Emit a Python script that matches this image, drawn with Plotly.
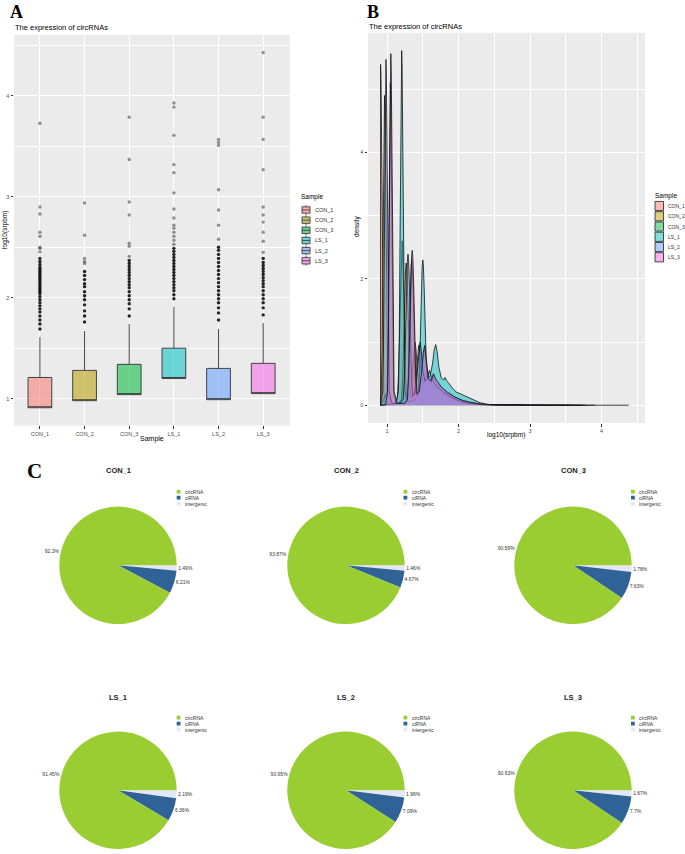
import plotly.graph_objects as go

W, H = 685, 854

# ---------------- data ----------------
samples = ["CON_1", "CON_2", "CON_3", "LS_1", "LS_2", "LS_3"]
sample_colors = ["#F8766D", "#B79F00", "#00BA38", "#00BFC4", "#619CFF", "#F564E3"]

# Panel A: box statistics (log10 srpbm)
box_q1 = [0.91, 0.98, 1.04, 1.20, 0.99, 1.05]
box_median = [0.91, 0.98, 1.04, 1.20, 0.99, 1.05]
box_q3 = [1.21, 1.28, 1.34, 1.50, 1.30, 1.35]
box_lower = [0.91, 0.98, 1.04, 1.20, 0.99, 1.05]
box_upper = [1.61, 1.67, 1.74, 1.91, 1.69, 1.75]

outliers_dense = [
    [1.69, 1.74, 1.78, 1.82, 1.86, 1.89, 1.92, 1.95, 1.98, 2.01, 2.04, 2.06, 2.08, 2.10,
     2.12, 2.14, 2.16, 2.18, 2.20, 2.22, 2.24, 2.26, 2.28, 2.30, 2.33, 2.36, 2.39],
    [1.76, 1.82, 1.87, 1.93, 1.98, 2.02, 2.06, 2.11, 2.14, 2.18, 2.22, 2.26],
    [1.82, 1.89, 1.94, 1.98, 2.02, 2.06, 2.10, 2.13, 2.16, 2.19, 2.22, 2.25, 2.28, 2.31,
     2.34, 2.37],
    [1.99, 2.03, 2.07, 2.10, 2.13, 2.16, 2.19, 2.22, 2.25, 2.28, 2.31, 2.34, 2.37, 2.40,
     2.43, 2.46, 2.49],
    [1.78, 1.85, 1.90, 1.95, 1.99, 2.03, 2.07, 2.11, 2.15, 2.19, 2.23, 2.27, 2.31, 2.35,
     2.39, 2.43, 2.47, 2.50],
    [1.83, 1.90, 1.95, 1.99, 2.03, 2.07, 2.11, 2.14, 2.17, 2.20, 2.23, 2.26, 2.29, 2.32,
     2.35, 2.39],
]
outliers_sparse = [
    [2.455, 2.49, 2.50, 2.61, 2.65, 2.83, 2.90, 3.73],
    [2.34, 2.36, 2.39, 2.62, 2.94],
    [2.41, 2.51, 2.54, 2.82, 2.95, 3.37, 3.79],
    [2.53, 2.57, 2.61, 2.65, 2.69, 2.72, 2.79, 2.88, 3.04, 3.24, 3.32, 3.61, 3.89, 3.93],
    [2.58, 2.72, 2.87, 3.07, 3.51, 3.54, 3.57],
    [2.45, 2.56, 2.65, 2.75, 2.82, 2.90, 3.27, 3.57, 3.79, 4.43],
]

# Panel B: density curves
dens_x_CON_1 = [0.91, 0.91, 0.916, 0.924, 0.934, 0.944, 0.956, 0.975, 1.0, 1.1, 1.144, 1.16,
                1.175, 1.189, 1.201, 1.21, 1.219, 1.231, 1.245, 1.26, 1.276, 1.3, 1.33, 1.355,
                1.375, 1.39, 1.405, 1.425, 1.45, 1.48, 1.51, 1.54, 1.57, 1.61, 1.66, 1.75, 1.85,
                1.95, 2.05, 2.2, 2.35, 2.6, 3.0, 3.72]
dens_y_CON_1 = [0, 5.39, 5.12, 4.2, 2.43, 0.97, 0.22, 0.04, 0.02, 0.02, 0.1, 0.47, 1.17, 2.03,
                2.47, 2.6, 2.47, 2.03, 1.17, 0.47, 0.15, 0.12, 0.2, 0.55, 0.88, 1.0, 0.88, 0.55,
                0.35, 0.38, 0.5, 0.42, 0.33, 0.36, 0.28, 0.22, 0.15, 0.09, 0.05, 0.025, 0.012,
                0.006, 0.003, 0.001]
dens_x_CON_2 = [0.91, 0.919, 0.931, 0.941, 0.951, 0.959, 0.965, 0.971, 0.979, 0.989, 0.999, 1.011,
                1.05, 1.15, 1.202, 1.218, 1.233, 1.247, 1.259, 1.268, 1.277, 1.289, 1.303, 1.318,
                1.334, 1.37, 1.395, 1.415, 1.43, 1.443, 1.456, 1.475, 1.5, 1.53, 1.565, 1.6, 1.67,
                1.75, 1.85, 1.95, 2.05, 2.2, 2.4, 2.93]
dens_y_CON_2 = [0, 0.2, 0.88, 2.2, 3.82, 4.66, 4.9, 4.66, 3.82, 2.2, 0.88, 0.2, 0.03, 0.02, 0.09,
                0.41, 1.01, 1.76, 2.14, 2.25, 2.14, 1.76, 1.01, 0.41, 0.12, 0.15, 0.3, 0.6, 0.85,
                0.95, 0.85, 0.55, 0.33, 0.36, 0.5, 0.38, 0.3, 0.22, 0.14, 0.08, 0.05, 0.02, 0.01,
                0.002]
dens_x_CON_3 = [0.91, 1.0, 1.012, 1.022, 1.032, 1.04, 1.046, 1.052, 1.06, 1.07, 1.08, 1.092, 1.13,
                1.25, 1.279, 1.295, 1.31, 1.324, 1.336, 1.345, 1.354, 1.366, 1.38, 1.395, 1.411,
                1.45, 1.48, 1.5, 1.525, 1.55, 1.575, 1.61, 1.65, 1.69, 1.76, 1.85, 1.95, 2.05,
                2.15, 2.3, 2.5, 3.0, 3.78]
dens_y_CON_3 = [0, 0.2, 0.92, 2.3, 3.98, 4.85, 5.1, 4.85, 3.98, 2.3, 0.92, 0.2, 0.03, 0.03, 0.09,
                0.41, 1.04, 1.79, 2.19, 2.3, 2.19, 1.79, 1.04, 0.41, 0.15, 0.2, 0.45, 0.72, 0.9,
                0.7, 0.42, 0.35, 0.48, 0.36, 0.28, 0.2, 0.13, 0.08, 0.05, 0.02, 0.008, 0.003,
                0.001]
dens_x_LS_1 = [0.91, 1.12, 1.159, 1.171, 1.181, 1.191, 1.199, 1.205, 1.211, 1.219, 1.229, 1.239,
               1.251, 1.29, 1.38, 1.434, 1.45, 1.465, 1.479, 1.491, 1.5, 1.509, 1.521, 1.535, 1.55,
               1.566, 1.6, 1.635, 1.66, 1.68, 1.7, 1.725, 1.76, 1.79, 1.81, 1.84, 1.88, 1.93,
               1.97, 2.05, 2.11, 2.2, 2.3, 2.4, 2.55, 3.0, 3.5, 3.91]
dens_y_LS_1 = [0, 0.02, 0.22, 1.01, 2.52, 4.38, 5.33, 5.61, 5.33, 4.38, 2.52, 1.01, 0.22, 0.05,
               0.08, 0.15, 0.45, 1.04, 1.79, 2.19, 2.3, 2.19, 1.79, 1.1, 0.6, 0.45, 0.45, 0.65,
               0.88, 0.96, 0.85, 0.6, 0.43, 0.4, 0.44, 0.38, 0.32, 0.25, 0.21, 0.17, 0.14, 0.09,
               0.04, 0.015, 0.006, 0.003, 0.002, 0.001]
dens_x_LS_2 = [0.91, 0.939, 0.951, 0.961, 0.971, 0.979, 0.985, 0.991, 0.999, 1.009, 1.019, 1.031,
               1.07, 1.18, 1.227, 1.243, 1.258, 1.272, 1.284, 1.293, 1.302, 1.314, 1.328, 1.343,
               1.359, 1.39, 1.42, 1.445, 1.462, 1.48, 1.5, 1.53, 1.56, 1.592, 1.62, 1.66, 1.7,
               1.78, 1.88, 1.97, 2.06, 2.18, 2.3, 2.5, 3.0, 3.57]
dens_y_LS_2 = [0, 0.22, 0.98, 2.46, 4.27, 5.2, 5.47, 5.2, 4.27, 2.46, 0.98, 0.22, 0.03, 0.03, 0.1,
               0.43, 1.08, 1.86, 2.27, 2.39, 2.27, 1.86, 1.08, 0.43, 0.14, 0.18, 0.5, 0.85, 1.0,
               0.85, 0.55, 0.38, 0.42, 0.55, 0.44, 0.35, 0.3, 0.22, 0.14, 0.09, 0.05, 0.025,
               0.012, 0.005, 0.002, 0.001]
dens_x_LS_3 = [0.91, 0.98, 1.007, 1.019, 1.029, 1.039, 1.047, 1.053, 1.059, 1.067, 1.077, 1.087,
               1.099, 1.14, 1.25, 1.286, 1.302, 1.317, 1.331, 1.343, 1.352, 1.361, 1.373, 1.387,
               1.402, 1.418, 1.45, 1.48, 1.505, 1.527, 1.55, 1.58, 1.615, 1.648, 1.68, 1.72, 1.76,
               1.85, 1.95, 2.05, 2.15, 2.3, 2.5, 3.0, 3.5, 4.0, 4.38]
dens_y_LS_3 = [0, 0.01, 0.22, 1.0, 2.5, 4.34, 5.28, 5.56, 5.28, 4.34, 2.5, 1.0, 0.22, 0.03, 0.03,
               0.1, 0.44, 1.1, 1.91, 2.33, 2.45, 2.33, 1.91, 1.1, 0.44, 0.18, 0.22, 0.5, 0.82,
               0.95, 0.75, 0.42, 0.38, 0.5, 0.42, 0.35, 0.29, 0.2, 0.13, 0.08, 0.05, 0.02, 0.008,
               0.003, 0.002, 0.001, 0.001]
dens_x = [dens_x_CON_1, dens_x_CON_2, dens_x_CON_3, dens_x_LS_1, dens_x_LS_2, dens_x_LS_3]
dens_y = [dens_y_CON_1, dens_y_CON_2, dens_y_CON_3, dens_y_LS_1, dens_y_LS_2, dens_y_LS_3]

# Panel C: pie compositions (%)
pie_labels = ["circRNA", "ciRNA", "intergenic"]
pie_colors = ["#9ACD32", "#2F6398", "#E6E6FA"]
pie_CON_1 = [92.3, 6.21, 1.49]
pie_CON_2 = [93.87, 4.67, 1.46]
pie_CON_3 = [90.59, 7.63, 1.78]
pie_LS_1 = [91.45, 6.36, 2.19]
pie_LS_2 = [90.95, 7.09, 1.96]
pie_LS_3 = [90.63, 7.7, 1.67]
pie_values = [pie_CON_1, pie_CON_2, pie_CON_3, pie_LS_1, pie_LS_2, pie_LS_3]

# ---------------- helpers ----------------
def hx(x):
    return x / W

def hy(y):
    return 1 - y / H

def rgba(hexc, a):
    hexc = hexc.lstrip("#")
    r, g, b = int(hexc[0:2], 16), int(hexc[2:4], 16), int(hexc[4:6], 16)
    return f"rgba({r},{g},{b},{a})"

SANS = "Liberation Sans, Arial, sans-serif"
SERIF = "Liberation Serif, Times New Roman, serif"
TICK_FONT = dict(family=SANS, size=5.5, color="#4D4D4D")

fig = go.Figure()

# ---------------- Panel A: boxplots ----------------
for i, s in enumerate(samples):
    fig.add_trace(go.Box(
        x=[s], q1=[box_q1[i]], median=[box_median[i]], q3=[box_q3[i]],
        lowerfence=[box_lower[i]], upperfence=[box_upper[i]],
        fillcolor=rgba(sample_colors[i], 0.55),
        line=dict(color="#333333", width=0.9), whiskerwidth=0,
        boxpoints=False, xaxis="x", yaxis="y", showlegend=False, hoverinfo="skip",
    ))
for i, s in enumerate(samples):
    fig.add_trace(go.Scatter(
        x=[s] * len(outliers_dense[i]), y=outliers_dense[i], mode="markers",
        marker=dict(size=3.4, color="rgba(0,0,0,0.85)", line=dict(width=0)),
        xaxis="x", yaxis="y", showlegend=False, hoverinfo="skip"))
    fig.add_trace(go.Scatter(
        x=[s] * len(outliers_sparse[i]), y=outliers_sparse[i], mode="markers",
        marker=dict(size=3.4, color="rgba(0,0,0,0.42)", line=dict(width=0)),
        xaxis="x", yaxis="y", showlegend=False, hoverinfo="skip"))

# ---------------- Panel B: densities ----------------
for i, s in enumerate(samples):
    fig.add_trace(go.Scatter(
        x=dens_x[i], y=dens_y[i], mode="lines", fill="tozeroy",
        fillcolor=rgba(sample_colors[i], 0.5),
        line=dict(color="#111111", width=0.8),
        xaxis="x2", yaxis="y2", showlegend=False, hoverinfo="skip"))

# ---------------- Panel C: pies ----------------
# drawn clockwise from 3 o'clock in reversed order, i.e. circRNA runs counter-clockwise
pie_centers_x = [118, 346, 573, 118, 346, 573]
pie_centers_y = [568, 568, 568, 794, 794, 794]
R = 59
for i, s in enumerate(samples):
    cx, cy = pie_centers_x[i], pie_centers_y[i]
    vals = pie_values[i][::-1]
    fig.add_trace(go.Pie(
        values=vals, labels=pie_labels[::-1],
        text=[f"{v:g}%" for v in vals], textinfo="text",
        textposition="outside", sort=False, direction="clockwise", rotation=90,
        marker=dict(colors=pie_colors[::-1], line=dict(width=0)),
        textfont=dict(family=SANS, size=5, color="#333333"),
        domain=dict(x=[hx(cx - R), hx(cx + R)], y=[hy(cy + R), hy(cy - R)]),
        showlegend=False, hoverinfo="skip",
    ))

# ---------------- layout / axes ----------------
grid_major = dict(showgrid=True, gridcolor="white", gridwidth=1)
fig.update_layout(
    width=W, height=H, margin=dict(l=0, r=0, t=0, b=0),
    paper_bgcolor="white", plot_bgcolor="#EBEBEB",
    boxgap=0.24, boxmode="overlay",
    xaxis=dict(domain=[hx(14), hx(290)], anchor="y", type="category",
               categoryorder="array", categoryarray=samples, range=[-0.58, 5.6],
               ticks="outside", ticklen=2.5, tickcolor="#333333", tickwidth=0.8,
               tickfont=TICK_FONT, zeroline=False, showline=False, **grid_major),
    yaxis=dict(domain=[hy(427.5), hy(35)], anchor="x", range=[0.734, 4.606],
               tickmode="linear", tick0=0, dtick=1,
               minor=dict(dtick=0.5, tick0=0, showgrid=True, gridcolor="white", gridwidth=0.5),
               ticks="outside", ticklen=2.5, tickcolor="#333333", tickwidth=0.8,
               tickfont=TICK_FONT, zeroline=False, showline=False, **grid_major),
    xaxis2=dict(domain=[hx(368), hx(645)], anchor="y2", range=[0.734, 4.606],
                tickmode="linear", tick0=0, dtick=1,
                minor=dict(dtick=0.5, tick0=0, showgrid=True, gridcolor="white", gridwidth=0.5),
                ticks="outside", ticklen=2.5, tickcolor="#333333", tickwidth=0.8,
                tickfont=TICK_FONT, zeroline=False, showline=False, **grid_major),
    yaxis2=dict(domain=[hy(425), hy(33)], anchor="x2", range=[-0.28, 5.89],
                tickmode="linear", tick0=0, dtick=2,
                minor=dict(dtick=1, tick0=0, showgrid=True, gridcolor="white", gridwidth=0.5),
                ticks="outside", ticklen=2.5, tickcolor="#333333", tickwidth=0.8,
                tickfont=TICK_FONT, zeroline=False, showline=False, **grid_major),
)

annotations = []
shapes = []

def text(x, y, s, size, color="black", family=SANS, xanchor="left", yanchor="middle", angle=0):
    annotations.append(dict(x=hx(x), y=hy(y), xref="paper", yref="paper", text=s,
                            showarrow=False, xanchor=xanchor, yanchor=yanchor, textangle=angle,
                            font=dict(family=family, size=size, color=color)))

# panel letters
text(8, 0, "<b>A</b>", 18, family=SERIF, yanchor="top")
text(365, 0, "<b>B</b>", 18, family=SERIF, yanchor="top")
text(25, 473, "<b>C</b>", 21, family=SERIF)

# titles
text(13, 28, "The expression of circRNAs", 7.5)
text(367, 26.5, "The expression of circRNAs", 7.5)

# axis titles
text(152, 441, "Sample", 7, xanchor="center")
text(5, 231, "log10(srpbm)", 6.5, xanchor="center", angle=-90)
text(506, 437, "log10(srpbm)", 6.5, xanchor="center")
text(357, 228, "density", 6.5, xanchor="center", angle=-90)

# legend A (boxplot keys)
text(299, 198, "Sample", 6.5)
legA_rows = [211, 221.2, 231.4, 241.6, 251.8, 262]
for i, s in enumerate(samples):
    yc = legA_rows[i]
    shapes.append(dict(type="rect", xref="paper", yref="paper",
                       x0=hx(301), x1=hx(311), y0=hy(yc + 5), y1=hy(yc - 5),
                       fillcolor="#F2F2F2", line=dict(width=0)))
    shapes.append(dict(type="rect", xref="paper", yref="paper",
                       x0=hx(302), x1=hx(310), y0=hy(yc + 3.2), y1=hy(yc - 3.2),
                       fillcolor=rgba(sample_colors[i], 0.55),
                       line=dict(color="#333333", width=0.8)))
    shapes.append(dict(type="line", xref="paper", yref="paper",
                       x0=hx(302), x1=hx(310), y0=hy(yc), y1=hy(yc),
                       line=dict(color="#333333", width=0.8)))
    for y0, y1 in ((yc - 4.8, yc - 3.2), (yc + 3.2, yc + 4.8)):
        shapes.append(dict(type="line", xref="paper", yref="paper",
                           x0=hx(306), x1=hx(306), y0=hy(y0), y1=hy(y1),
                           line=dict(color="#333333", width=0.8)))
    text(313, yc, s, 5.5, color="#333333")

# legend B (density keys)
text(653, 197, "Sample", 6.5)
legB_rows = [207, 217.3, 227.6, 237.9, 248.2, 258.5]
for i, s in enumerate(samples):
    yc = legB_rows[i]
    shapes.append(dict(type="rect", xref="paper", yref="paper",
                       x0=hx(655), x1=hx(663.5), y0=hy(yc + 4.6), y1=hy(yc - 4.6),
                       fillcolor=rgba(sample_colors[i], 0.5),
                       line=dict(color="#333333", width=0.9)))
    text(666, yc, s, 5, color="#333333")

# pie titles and legends
pie_leg_x = [176.7, 403.5, 631]
for i, s in enumerate(samples):
    cx, cy = pie_centers_x[i], pie_centers_y[i]
    title_y = 473 if i < 3 else 701
    text(cx, title_y, f"<b>{s}</b>", 7.5, color="#222222", xanchor="center")
    lx = pie_leg_x[i % 3]
    rows = [494, 500, 506] if i < 3 else [721, 727, 733]
    for j, lab in enumerate(pie_labels):
        yc = rows[j]
        shapes.append(dict(type="rect", xref="paper", yref="paper",
                           x0=hx(lx), x1=hx(lx + 3.8), y0=hy(yc + 1.9), y1=hy(yc - 1.9),
                           fillcolor=pie_colors[j], line=dict(width=0)))
        text(lx + 6, yc, lab, 5, color="#333333")

fig.update_layout(annotations=annotations, shapes=shapes)

fig.write_html("out.html", config={"displayModeBar": False},
               post_script="document.body.style.margin='0px';")
